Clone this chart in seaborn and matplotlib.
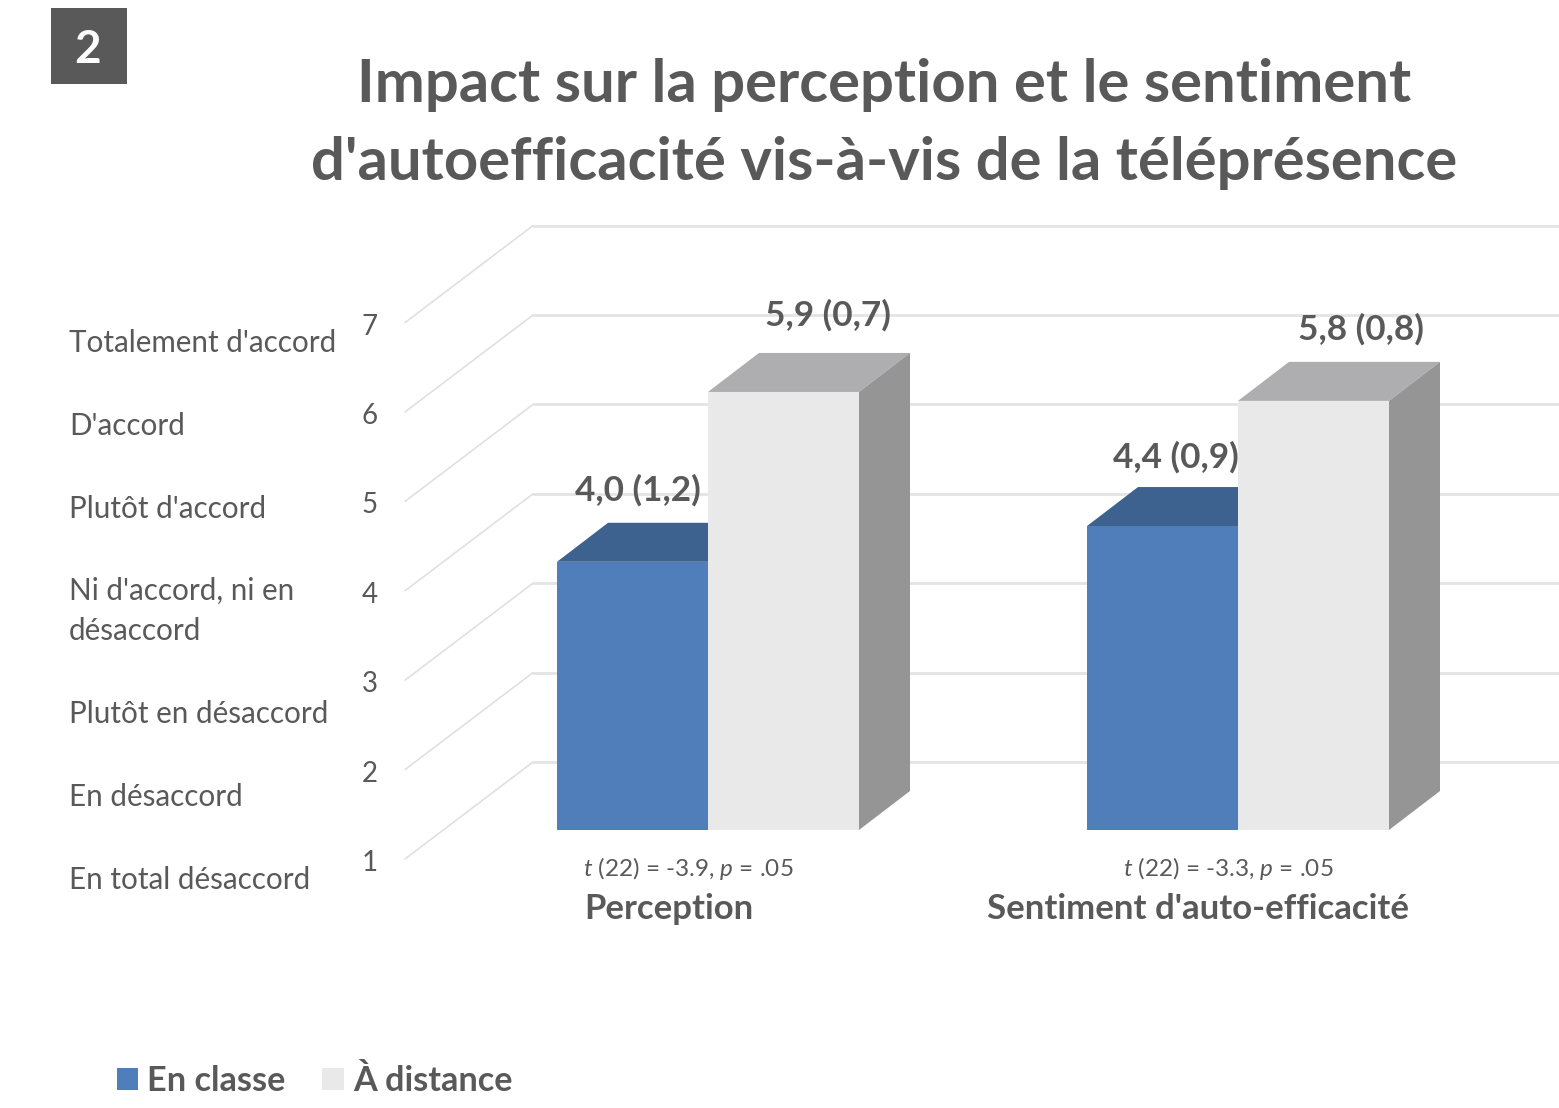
import pandas as pd
import matplotlib
matplotlib.use("Agg")
import matplotlib.pyplot as plt
from matplotlib.patches import Polygon, Rectangle
import seaborn as sns

categories = ["Perception", "Sentiment d'auto-efficacité"]
series_names = ["En classe", "À distance"]
en_classe = [4.0, 4.4]
a_distance = [5.9, 5.8]
ecart_classe = ["1,2", "0,9"]
ecart_distance = ["0,7", "0,8"]
ticks = [1, 2, 3, 4, 5, 6, 7]
likert = ["Totalement d'accord", "D'accord", "Plutôt d'accord", "Ni d'accord, ni en\ndésaccord",
          "Plutôt en désaccord", "En désaccord", "En total désaccord"]
stats = [r"$t$ (22) = -3.9, $p$ = .05", r"$t$ (22) = -3.3, $p$ = .05"]

W, H = 1559, 1108
X_UNIT = 530  # pixels between the two groups
Y_UNIT = 89.4  # pixels per scale point
X0, Y0 = 708, 830  # pixel of group 0, floor of the bars
DX, DY = 51 / X_UNIT, 39 / Y_UNIT  # depth of the 3d bars
GREY = "#595959"

sns.set_theme(style="white")
plt.rcParams["font.family"] = ["Lato", "DejaVu Sans"]
plt.rcParams["mathtext.fontset"] = "custom"
plt.rcParams["mathtext.it"] = "Lato:italic"
plt.rcParams["mathtext.rm"] = "Lato"


def px(x):
    return (x - X0) / X_UNIT


def py(y):
    return (Y0 - y) / Y_UNIT


df = pd.DataFrame({
    "categorie": categories * 2,
    "serie": [series_names[0]] * 2 + [series_names[1]] * 2,
    "score": en_classe + a_distance,
})
# bars stand on the scale's 1, so height is score minus one
df["hauteur"] = df["score"] - 1

fig = plt.figure(figsize=(W / 100, H / 100), dpi=100)
ax = fig.add_axes([0, 0, 1, 1])

sns.barplot(data=df, x="categorie", y="hauteur", hue="serie", width=302 / X_UNIT, gap=0,
            palette=["#4F7EBB", "#E9E9E9"], saturation=1, linewidth=0, ax=ax)
ax.set_xlim(px(0), px(W))
ax.set_ylim(py(H), py(0))
ax.axis("off")

# 3d sides and tops built from the bars seaborn drew
bars = [b for b in ax.patches if b.get_height() > 0]
for i, bar in enumerate(bars):
    x0, x1, h = bar.get_x(), bar.get_x() + bar.get_width(), bar.get_height()
    blue = i < 2
    z = 2 if blue else 4
    bar.set_zorder(z + 0.5 if not blue else 2.5)
    top = "#3D628F" if blue else "#AEAEB0"
    side = "#3D628F" if blue else "#959595"
    ax.add_patch(Polygon([(x0, h), (x1, h), (x1 + DX, h + DY), (x0 + DX, h + DY)],
                         facecolor=top, edgecolor="none", zorder=z))
    if not blue:
        ax.add_patch(Polygon([(x1, 0), (x1 + DX, DY), (x1 + DX, h + DY), (x1, h)],
                             facecolor=side, edgecolor="none", zorder=z))

# gridlines: one diagonal on the side wall, one straight on the back wall
for t in ticks:
    level = t - 1
    front = level + py(859)
    back = level + py(762)
    ax.plot([px(405), px(533)], [front, back], color="#E0E0E0", lw=1.2, zorder=1)
    ax.plot([px(533), px(W)], [back, back], color="#E4E4E4", lw=2, zorder=1)
    ax.text(px(370), front - 4 / Y_UNIT, str(t), color=GREY, fontsize=20, ha="center", va="center")

label_pos = [(638, 490), (1176, 457), (828, 315), (1361, 329)]
labels = [f"{v:.1f}".replace(".", ",") + f" ({e})" for v, e in
          zip(en_classe + a_distance, ecart_classe + ecart_distance)]
for (lx, ly), txt in zip(label_pos, labels):
    ax.text(px(lx), py(ly), txt, color=GREY, fontsize=25.3, fontweight="bold", ha="center", va="center", zorder=6)

for txt, sx in zip(stats, [688, 1228]):
    ax.text(px(sx), py(868), txt, color=GREY, fontsize=17.5, ha="center", va="center")
for txt, cx in zip(categories, [669, 1198]):
    ax.text(px(cx), py(909), txt, color=GREY, fontsize=25, fontweight="bold", ha="center", va="center")

likert_y = [343, 426, 509, 611, 714, 797, 880]
for txt, ly in zip(likert, likert_y):
    ax.text(px(69), py(ly), txt, color=GREY, fontsize=21.3, ha="left", va="center", linespacing=1.5)

ax.add_patch(Rectangle((px(51), py(84)), 76 / X_UNIT, 76 / Y_UNIT, facecolor=GREY, edgecolor="none", zorder=6))
ax.text(px(88), py(50), "2", color="white", fontsize=33, fontweight="bold", ha="center", va="center", zorder=7)

ax.text(px(884), py(124), "Impact sur la perception et le sentiment\nd'autoefficacité vis-à-vis de la téléprésence",
        color=GREY, fontsize=43, fontweight="bold", ha="center", va="center", linespacing=1.53)

sns.move_legend(ax, "lower left", bbox_to_anchor=(86 / W, 1 - 1128 / H), ncol=2, frameon=False, title=None,
                handlelength=0.62, handleheight=0.62, handletextpad=0.27, columnspacing=1.07,
                labelcolor=GREY, prop={"weight": "bold", "size": 24.7})

fig.savefig("out.png", dpi=100)
